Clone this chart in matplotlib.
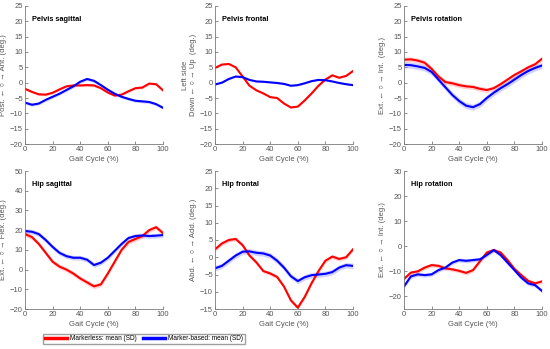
import matplotlib
matplotlib.use("Agg")
import matplotlib.pyplot as plt
from matplotlib.lines import Line2D

plt.rcParams['font.family'] = ['Liberation Sans', 'DejaVu Sans']

gait = [0, 5, 10, 15, 20, 25, 30, 35, 40, 45, 50, 55, 60, 65, 70, 75, 80, 85, 90, 95, 100]

titles = ["Pelvis sagittal", "Pelvis frontal", "Pelvis rotation",
          "Hip sagittal", "Hip frontal", "Hip rotation"]
ylabels = ["Post. \u2190 \u25cb \u2192 Ant. (deg.)",
           "Left side\nDown \u2190 \u25cb \u2192 Up  (deg.)",
           "Ext. \u2190 \u25cb \u2192 Int.  (deg.)",
           "Ext. \u2190 \u25cb \u2192 Flex. (deg.)",
           "Abd. \u2190 \u25cb \u2192 Add. (deg.)",
           "Ext. \u2190 \u25cb \u2192 Int. (deg.)"]
ylims = [(-20, 25), (-20, 25), (-20, 25), (-20, 50), (-15, 25), (-25, 30)]
yticks = [list(range(-20, 26, 5)), list(range(-20, 26, 5)), list(range(-20, 26, 5)),
          list(range(-20, 51, 10)), list(range(-15, 26, 5)), list(range(-20, 31, 10))]

# Markerless (red) means
pelvis_sag_ml = [-2.0, -3.0, -3.8, -3.9, -3.3, -2.2, -1.2, -0.9, -0.9, -0.8, -0.9, -1.8,
                 -3.2, -4.2, -3.9, -2.8, -1.8, -1.6, -0.3, -0.5, -2.5]
pelvis_fro_ml = [4.8, 5.9, 6.1, 5.0, 2.0, -1.0, -2.5, -3.5, -4.7, -5.0, -6.8, -8.1,
                 -7.8, -5.8, -3.5, -1.0, 1.0, 2.4, 1.6, 2.2, 3.8]
pelvis_rot_ml = [7.5, 7.6, 7.2, 6.5, 4.5, 2.0, 0.2, -0.2, -0.8, -1.2, -1.4, -2.0,
                 -2.4, -1.8, -0.5, 1.0, 2.5, 3.7, 5.0, 6.0, 7.8]
hip_sag_ml = [18.0, 16.5, 13.0, 8.5, 4.0, 1.5, 0.0, -2.0, -4.5, -6.5, -8.5, -7.5,
              -2.0, 4.0, 10.0, 14.0, 15.5, 17.0, 20.0, 21.5, 18.5]
hip_fro_ml = [2.3, 4.0, 5.0, 5.3, 3.5, 0.5, -1.5, -4.0, -4.7, -5.7, -8.5, -12.5,
              -14.6, -11.5, -7.5, -4.0, -1.0, 0.2, -0.5, 0.0, 2.3]
hip_rot_ml = [-13.0, -10.5, -10.0, -8.5, -7.5, -7.8, -8.8, -9.2, -9.8, -10.6, -9.5, -6.0,
              -2.5, -1.5, -2.5, -5.5, -9.0, -11.5, -13.8, -14.8, -14.0]

# Marker-based (blue) means
pelvis_sag_mb = [-6.5, -7.2, -6.8, -5.6, -4.6, -3.6, -2.4, -1.2, 0.3, 1.2, 0.6, -0.8,
                 -2.3, -3.6, -4.6, -5.3, -5.9, -6.1, -6.3, -7.0, -8.2]
pelvis_fro_mb = [-0.6, 0.0, 1.2, 2.0, 1.8, 0.9, 0.4, 0.3, 0.1, -0.1, -0.4, -1.0,
                 -0.8, -0.2, 0.5, 0.9, 0.8, 0.4, -0.1, -0.5, -0.8]
pelvis_rot_mb = [5.8, 5.7, 5.3, 4.8, 3.5, 1.0, -1.5, -4.0, -6.0, -7.5, -8.0, -7.0,
                 -5.0, -3.3, -1.8, -0.5, 1.0, 2.5, 3.8, 4.8, 5.6]
hip_sag_mb = [19.5, 19.2, 18.0, 15.0, 11.5, 8.5, 6.8, 6.0, 6.0, 5.0, 2.3, 3.5,
              6.0, 9.5, 13.0, 16.0, 17.0, 17.3, 17.0, 17.2, 17.5]
hip_fro_mb = [-3.2, -2.5, -1.0, 0.5, 1.6, 1.7, 1.3, 1.1, 0.5, -1.0, -3.0, -5.5,
              -6.9, -5.8, -5.2, -5.0, -4.8, -4.3, -3.0, -2.3, -2.5]
hip_rot_mb = [-16.0, -12.0, -11.2, -11.5, -11.2, -9.5, -8.5, -6.5, -5.5, -5.8, -5.5, -5.2,
              -3.5, -1.5, -3.5, -6.5, -9.5, -12.5, -14.8, -15.5, -17.8]

ml_means = [pelvis_sag_ml, pelvis_fro_ml, pelvis_rot_ml, hip_sag_ml, hip_fro_ml, hip_rot_ml]
mb_means = [pelvis_sag_mb, pelvis_fro_mb, pelvis_rot_mb, hip_sag_mb, hip_fro_mb, hip_rot_mb]
ml_sd = [0.4, 0.25, 0.8, 1.2, 0.6, 0.8]
mb_sd = [0.5, 0.25, 1.0, 1.2, 0.8, 0.8]

RED = '#ff0000'
BLUE = '#0000ff'
GREY = '#7a7a7a'
TXT = '#555555'

fig = plt.figure(figsize=(5.5, 3.49), dpi=100)
lefts = [25 / 550, 215 / 550, 404 / 550]
bottoms = [1 - 144 / 349, 1 - 309 / 349]
w, h = 138 / 550, 138 / 349

for i in range(6):
    r, c = divmod(i, 3)
    ax = fig.add_axes([lefts[c], bottoms[r], w, h])
    for mean, sd, col in [(ml_means[i], ml_sd[i], RED), (mb_means[i], mb_sd[i], BLUE)]:
        lo = [m - sd for m in mean]
        hi = [m + sd for m in mean]
        ax.fill_between(gait, lo, hi, color=col, alpha=0.18, lw=0)
    ax.plot(gait, ml_means[i], color=RED, lw=1.5)
    ax.plot(gait, mb_means[i], color=BLUE, lw=1.5)
    ax.set_xlim(0, 100)
    ax.set_ylim(*ylims[i])
    ax.set_xticks([0, 20, 40, 60, 80, 100])
    ax.set_yticks(yticks[i])
    for s in ['top', 'right']:
        ax.spines[s].set_visible(False)
    for s in ['left', 'bottom']:
        ax.spines[s].set_color(GREY)
        ax.spines[s].set_linewidth(0.6)
    ax.tick_params(direction='in', length=2.5, width=0.6, colors=GREY,
                   labelsize=5.5, labelcolor=TXT, pad=1.5)
    ax.set_xlabel("Gait Cycle (%)", fontsize=5.5, color=TXT, labelpad=2)
    ax.set_ylabel(ylabels[i], fontsize=5.5, color=TXT, labelpad=2)
    ax.text(0.05, 0.9, titles[i], transform=ax.transAxes, fontsize=5.3,
            fontweight='bold', va='center', ha='left', color='black')

handles = [Line2D([], [], color=RED, lw=2.5), Line2D([], [], color=BLUE, lw=2.5)]
fig.legend(handles, ["Markerless: mean (SD)", "Marker-based: mean (SD)"],
           loc='center right', bbox_to_anchor=(248 / 550, 1 - 339 / 349), ncol=2,
           fontsize=4.7, frameon=True, fancybox=False, edgecolor='#888888',
           handlelength=3.4, columnspacing=1.0, handletextpad=0.4, borderpad=0.3)

fig.savefig("out.png", dpi=100)
